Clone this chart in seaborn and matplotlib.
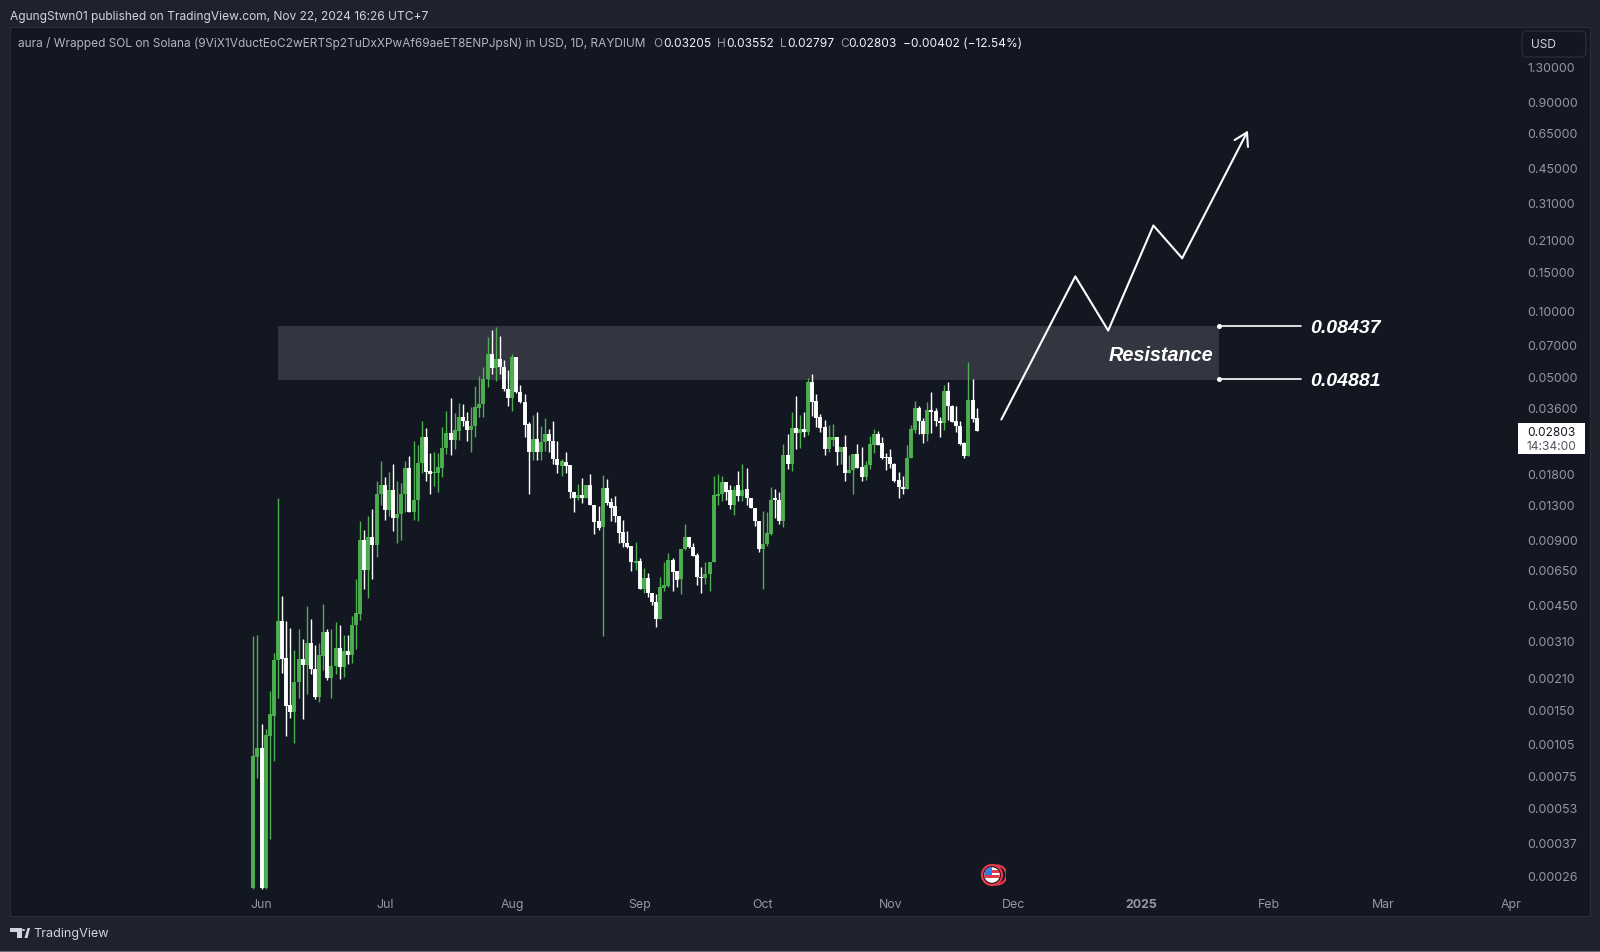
import numpy as np
import pandas as pd
import matplotlib
matplotlib.use("Agg")
import matplotlib.pyplot as plt
from matplotlib.patches import Circle, FancyBboxPatch, Polygon, Rectangle
from matplotlib.transforms import ScaledTranslation
import seaborn as sns

# daily candles, first candle is May 30 2024
opens = [.000228,.000905,.000993,.000228,.00113,.0014,.00251,.00379,.00256,.00157,.00146,.002,.00254,.00238,.003,.00228,.0017,.00262,.00338,.00208,
         .00236,.00285,.00233,.00276,.00265,.00363,.00407,.00889,.00648,.00918,.00843,.0145,.0158,.0122,.015,.0112,.0117,.0145,.0189,.0119,
         .0135,.02,.0263,.0184,.0179,.018,.0189,.0234,.0274,.0255,.028,.0324,.0311,.0283,.0295,.0357,.0372,.0484,.063,.0543,
         .0598,.0549,.0436,.0396,.061,.0422,.038,.0301,.0224,.0258,.0224,.025,.0271,.0252,.0208,.0193,.0202,.0195,.0148,.0138,
         .0142,.0138,.0158,.0129,.0108,.0102,.0153,.0132,.0127,.0115,.00968,.00861,.00835,.007,.00712,.0053,.00596,.00509,.00463,.00387,
         .00536,.00548,.0072,.00641,.0059,.00808,.00918,.00826,.00759,.00603,.00596,.00621,.00705,.0141,.0145,.0164,.015,.0128,.0158,.0141,
         .0152,.0139,.0124,.0109,.00808,.00852,.00947,.0138,.0136,.0109,.0217,.0197,.0289,.0274,.0286,.0277,.0469,.0384,.0324,.0292,
         .0232,.0255,.0263,.0224,.0237,.018,.0186,.022,.0191,.0173,.0195,.0242,.0271,.0247,.0213,.0213,.0197,.0167,.0155,.0152,
         .021,.0283,.0357,.0311,.0271,.0349,.0345,.0311,.0304,.0426,.0364,.0311,.0295,.0247,.0215,.0388,.03205]
highs = [.00324,.00327,.00128,.00122,.00181,.0027,.0138,.00493,.00379,.00352,.00279,.00349,.00314,.00444,.00387,.00294,.003,.00453,.00349,.00349,
         .00375,.00363,.00327,.00327,.00399,.0059,.0108,.00988,.0115,.0123,.0165,.0204,.0173,.0182,.0197,.0165,.0162,.0204,.0215,.0252,
         .0242,.0311,.0289,.0222,.0224,.0222,.0292,.0345,.0396,.0338,.0376,.0372,.0342,.036,.045,.05,.0549,.0753,.0811,.0837,
         .0761,.0591,.0532,.063,.061,.0454,.0413,.0307,.0331,.0342,.0295,.0321,.0286,.0311,.0252,.0208,.0224,.0195,.0148,.016,
         .017,.0158,.0178,.0129,.0127,.0176,.0169,.0138,.0141,.0115,.011,.00978,.00835,.0087,.00735,.00662,.00627,.00509,.00503,.00603,
         .00705,.00776,.00735,.00641,.00808,.0105,.00918,.00861,.00776,.00669,.00705,.00705,.0175,.0178,.0175,.0164,.0158,.0157,.0184,.0197,
         .0189,.0139,.0124,.0109,.0121,.0119,.0155,.0152,.0147,.0244,.0271,.0342,.0405,.0331,.0342,.0489,.051,.0413,.0335,.0314,
         .0298,.0301,.0263,.0237,.0268,.0217,.022,.0245,.0237,.0204,.0266,.0286,.028,.0263,.0222,.0232,.02,.0182,.0175,.0242,
         .0298,.0384,.0364,.0321,.038,.0422,.0357,.0324,.0454,.0469,.0368,.0364,.0311,.025,.0579,.0484,.03552]
lows = [.000225,.000725,.000225,.000225,.000381,.000868,.00168,.00219,.00113,.00136,.00105,.00168,.00135,.00175,.00217,.00167,.00162,.00226,.00204,.00168,
        .00217,.00206,.0021,.00241,.00243,.00282,.00383,.0053,.00483,.0059,.00743,.0128,.011,.0115,.00978,.00861,.00889,.0119,.0119,.011,
        .0109,.018,.0165,.0145,.0157,.0147,.0173,.022,.0217,.0232,.0255,.0295,.0252,.0224,.0263,.0324,.0324,.0445,.051,.0474,
        .051,.0426,.0364,.0345,.0418,.0376,.0263,.0144,.0206,.0206,.0206,.0227,.0224,.0197,.018,.0175,.018,.0139,.0119,.0136,
        .0131,.0138,.0128,.00947,.00988,.00324,.0129,.0109,.0107,.00861,.00826,.00817,.00641,.00648,.0053,.00509,.00488,.00449,.00356,.00387,
        .0052,.00542,.0052,.00542,.00503,.008,.00817,.0075,.00554,.00509,.00559,.0052,.00705,.0128,.0134,.0135,.0123,.0116,.0134,.0134,
        .0129,.0124,.0103,.00784,.0053,.00835,.00937,.0112,.0105,.0102,.0188,.0184,.0232,.0234,.0263,.0268,.0328,.0292,.0277,.0217,
        .0224,.024,.0195,.0197,.0165,.018,.0145,.0189,.0165,.0167,.0188,.0222,.0242,.0208,.0186,.0189,.0164,.0138,.0145,.0152,
        .021,.0274,.0271,.0247,.0252,.0274,.0295,.0263,.0283,.0314,.0307,.0277,.0242,.021,.0215,.0307,.02797]
closes = [.000914,.000993,.000228,.00114,.00142,.00251,.00379,.00254,.00155,.00146,.002,.00254,.00238,.003,.00228,.0017,.00265,.00338,.00208,.00236,
          .00285,.00233,.00276,.00265,.00363,.00412,.00889,.00648,.00918,.00843,.0145,.0158,.0122,.015,.0112,.0117,.0145,.0189,.0119,.0135,
          .02,.0263,.0182,.0178,.0181,.0191,.0234,.0274,.0255,.0283,.0324,.0311,.0283,.0295,.036,.0372,.0484,.063,.0543,.0598,
          .0549,.0436,.0396,.061,.0422,.038,.0298,.0224,.0258,.0224,.025,.0271,.0252,.0208,.0195,.0204,.0193,.0147,.0138,.0142,
          .0138,.0158,.0128,.0107,.0101,.0153,.0131,.0125,.0114,.00957,.00861,.00826,.00705,.00712,.0053,.00596,.00509,.00463,.00387,.00542,
          .00554,.0072,.00634,.00583,.00808,.00918,.00826,.0075,.00603,.00596,.00621,.00705,.0142,.0145,.0164,.0148,.0128,.015,.0141,.015,
          .0138,.0124,.0108,.00808,.00852,.00957,.0136,.0136,.0109,.0217,.0197,.0289,.0274,.0286,.0277,.0469,.038,.0321,.0289,.0232,
          .0263,.0263,.0224,.0237,.018,.0186,.022,.0189,.0173,.0195,.0245,.0271,.0242,.021,.021,.0197,.0165,.0155,.0152,.021,
          .0286,.0357,.0311,.0271,.0349,.0342,.0311,.0304,.0426,.0364,.0307,.0295,.0245,.0215,.0388,.0317,.02803]

price_ticks = [1.3, .9, .65, .45, .31, .21, .15, .1, .07, .05, .036, .018, .013, .009, .0065, .0045,
               .0031, .0021, .0015, .00105, .00075, .00053, .00037, .00026]
month_ticks = ["2024-06-01", "2024-07-01", "2024-08-01", "2024-09-01", "2024-10-01", "2024-11-01",
               "2024-12-01", "2025-01-01", "2025-02-01", "2025-03-01", "2025-04-01"]
month_labels = ["Jun", "Jul", "Aug", "Sep", "Oct", "Nov", "Dec", "2025", "Feb", "Mar", "Apr"]

zone_top = 0.08437
zone_bottom = 0.0479
zone_start = "2024-06-05"
zone_end = "2025-01-20"
level_end = "2025-02-09"
levels = [0.08437, 0.0484]
level_labels = ["0.08437", "0.04881"]

path_dates = ["2024-11-28", "2024-12-16", "2024-12-24", "2025-01-04", "2025-01-11", "2025-01-27"]
path_prices = [.0316, .1426, .0806, .2437, .1727, .662]

BG_OUT = "#1e222d"
BG_IN = "#131722"
GREEN = "#4caf50"
WHITE = "#ffffff"
FONT = "Inter"
W, H = 1600, 952


def px(x, y):
    return x / W, 1 - y / H


def label(x, y, s, color="#d1d4dc", size=8.6, ha="left", **kw):
    fx, fy = px(x, y + 1.5)
    fig.text(fx, fy, s, color=color, fontsize=size, ha=ha, va="center", family=FONT, zorder=20, **kw)


sns.set_theme(style="dark", rc={"axes.facecolor": BG_IN, "figure.facecolor": BG_OUT})
fig = plt.figure(figsize=(W / 100, H / 100), dpi=100)
fig.patches.append(Rectangle(px(10, 916), 1580 / W, 889 / H, transform=fig.transFigure,
                             facecolor=BG_IN, edgecolor="#2a2e39", lw=0.8, zorder=-2))
fig.patches.append(Rectangle((0, 0), 1, 1 / H, transform=fig.transFigure, facecolor="#6a6d76", lw=0, zorder=-2))

ax = fig.add_axes([10 / W, 1 - 892 / H, 1510 / W, 865 / H])
ax.patch.set_visible(False)
for s in ax.spines.values():
    s.set_visible(False)

days = pd.date_range("2024-05-30", periods=len(opens))
df = pd.DataFrame({"day": days, "open": opens, "high": highs, "low": lows, "close": closes})
df["side"] = np.where(df["close"] >= df["open"], "up", "down")
palette = {"up": GREEN, "down": WHITE}

ax.add_patch(Rectangle((pd.Timestamp(zone_start), zone_bottom),
                       pd.Timestamp(zone_end) - pd.Timestamp(zone_start), zone_top - zone_bottom,
                       facecolor="#333640", edgecolor="none", zorder=1))

# wicks and bodies as one short line per day
wicks = df.melt(id_vars=["day", "side"], value_vars=["low", "high"], value_name="price")
bodies = df.melt(id_vars=["day", "side"], value_vars=["open", "close"], value_name="price")
sns.lineplot(data=wicks, x="day", y="price", hue="side", units="day", estimator=None, sort=False,
             palette=palette, hue_order=["up", "down"], legend=False, lw=1.0, ax=ax,
             solid_capstyle="butt", zorder=3)
sns.lineplot(data=bodies, x="day", y="price", hue="side", units="day", estimator=None, sort=False,
             palette=palette, hue_order=["up", "down"], legend=False, lw=2.8, ax=ax,
             solid_capstyle="butt", zorder=4)

path_df = pd.DataFrame({"day": pd.to_datetime(path_dates), "price": path_prices})
sns.lineplot(data=path_df.iloc[:-1], x="day", y="price", sort=False, estimator=None, color="white", lw=1.5, ax=ax, zorder=5)
ax.annotate("", xy=(path_df["day"].iloc[-1], path_prices[-1]), xytext=(path_df["day"].iloc[-2], path_prices[-2]),
            arrowprops=dict(arrowstyle="->,head_length=0.75,head_width=0.45", color="white", lw=1.5,
                            shrinkA=0, shrinkB=0), zorder=5)

for lv in levels:
    ax.plot([pd.Timestamp(zone_end), pd.Timestamp(level_end)], [lv, lv], color="white", lw=1.2, zorder=5)
    ax.plot([pd.Timestamp(zone_end)], [lv], "o", color="white", ms=2.6, zorder=6)

ax.set_yscale("log")
ax.set_xlim(pd.Timestamp("2024-05-30") - pd.Timedelta(days=59.2), pd.Timestamp("2024-05-30") + pd.Timedelta(days=308.2))
ax.set_ylim(0.0002184, 1.97)
ax.minorticks_off()
ax.yaxis.tick_right()
ax.set_yticks(price_ticks)
ax.set_yticklabels([f"{p:.5f}" for p in price_ticks], color="#9598a1", fontsize=8.9, family=FONT)
ax.set_xticks(pd.to_datetime(month_ticks))
ax.set_xticklabels(month_labels, color="#9598a1", fontsize=8.9, family=FONT)
ax.get_xticklabels()[7].set_fontweight("bold")
ax.tick_params(axis="both", length=0)
ax.tick_params(axis="y", pad=5.5)
ax.tick_params(axis="x", pad=5)
nudge = ScaledTranslation(0, -1.2 / 100, fig.dpi_scale_trans)
for lbl in ax.get_yticklabels():
    lbl.set_transform(lbl.get_transform() + nudge)
ax.set_xlabel("")
ax.set_ylabel("")
ax.grid(False)

# header
label(10, 15.5, "AgungStwn01 published on TradingView.com, Nov 22, 2024 16:26 UTC+7")
label(18, 42.5, "aura / Wrapped SOL on Solana (9ViX1VductEoC2wERTSp2TuDxXPwAf69aeET8ENPJpsN) in USD, 1D, RAYDIUM",
      color="#b2b5be", size=8.55)
for x_key, key, x_val, val in [(653, "O", 663, "0.03205"), (717, "H", 726, "0.03552"),
                               (780, "L", 787, "0.02797"), (840, "C", 848, "0.02803")]:
    label(x_key, 42.5, key, color="#9598a1")
    label(x_val, 42.5, val, color="#f0f3fa")
label(903, 42.5, "\u22120.00402 (\u221212.54%)", color="#f0f3fa")

# right side boxes
usd = FancyBboxPatch(px(1522, 57), 64 / W, 26 / H, boxstyle="round,pad=0,rounding_size=0.003",
                     transform=fig.transFigure, facecolor=BG_IN, edgecolor="#2a2e39", lw=0.9, mutation_aspect=1.6)
fig.patches.append(usd)
label(1531, 44, "USD")
fig.patches.append(Rectangle(px(1518, 454), 67 / W, 31 / H, transform=fig.transFigure, facecolor="white", lw=0, zorder=10))
label(1551, 431, "0.02803", color="#131722", ha="center")
label(1551, 445.5, "14:34:00", color="#50535e", ha="center")

# zone labels
for y, s in [(328.5, level_labels[0]), (381, level_labels[1])]:
    fx, fy = px(1310, y)
    fig.text(fx, fy, s, color="white", fontsize=14, fontweight="bold", fontstyle="italic",
             family="Liberation Sans", va="center", zorder=20)
fx, fy = px(1213, 355.5)
fig.text(fx, fy, "Resistance", color="white", fontsize=14.3, fontweight="bold", fontstyle="italic",
         family="Liberation Sans", va="center", ha="right", zorder=20)

# logo
logo = "#d1d4dc"
for pts in [[(10, 928), (22, 928), (22, 938), (17, 938), (17, 932), (10, 932)],
            [(24.5, 938), (27.5, 928), (30, 928), (29, 932), (27.5, 938)]]:
    fig.patches.append(Polygon([px(*p) for p in pts], closed=True, transform=fig.transFigure, facecolor=logo, lw=0))
fig.add_artist(Circle(px(23.5, 930), 1.6 / W, transform=fig.transFigure, facecolor=logo, lw=0))
label(33, 933, "TradingView", size=9.1)

# flag marker
fl = fig.add_axes([978 / W, 1 - 889 / H, 28 / W, 28 / H])
fl.set_xlim(-14, 14)
fl.set_ylim(-14, 14)
fl.axis("off")
fl.add_patch(Circle((5, 0), 9.5, facecolor=BG_IN, edgecolor="#e8374a", lw=1.6))
fl.add_patch(Circle((0, 0), 10, facecolor=BG_IN, edgecolor="#e8374a", lw=1.6, zorder=2))
disc = Circle((0, 0), 7.8, facecolor="white", lw=0, zorder=3)
fl.add_patch(disc)
for y0 in (2.5, -2.5):
    r = Rectangle((-10, y0), 20, 2.2, facecolor="#e8374a", lw=0, zorder=4)
    fl.add_patch(r)
    r.set_clip_path(disc)
c = Rectangle((-10, 0), 10, 10, facecolor="#2f7de1", lw=0, zorder=5)
fl.add_patch(c)
c.set_clip_path(disc)

fig.savefig("out.png", dpi=100, facecolor=BG_OUT)
